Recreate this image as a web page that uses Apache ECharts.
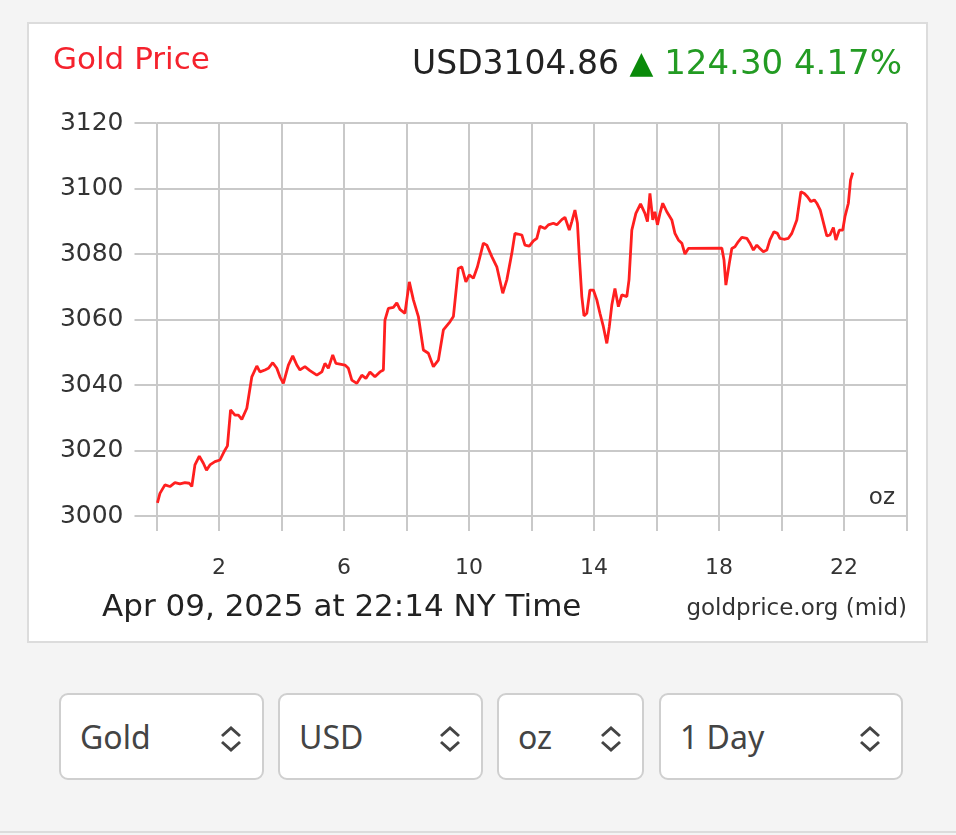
<!DOCTYPE html>
<html>
<head>
<meta charset="utf-8">
<script src="https://cdn.jsdelivr.net/npm/echarts@6/dist/echarts.min.js"></script>
<style>
  html, body { margin: 0; padding: 0; }
  body { width: 956px; height: 835px; background: #f4f4f4; position: relative; overflow: hidden; }
  #page { position: absolute; left: 0; top: 0; width: 956px; height: 831px; border-bottom: 2px solid #dcdcdc; }
  #panel { position: absolute; left: 27px; top: 22px; width: 901px; height: 621px; box-sizing: border-box;
           background: #fff; border: 2px solid #dcdcdc; }
  #chart { position: absolute; left: 0; top: 0; width: 956px; height: 835px; }
  .sel { position: absolute; top: 693px; height: 87px; box-sizing: border-box; background: #fff;
         border: 2px solid #cfcfcf; border-radius: 9px; font-family: "Noto Sans", sans-serif;
         font-size: 32px; color: #444; line-height: 83px; padding-left: 19px; }
  .sel svg { position: absolute; right: 18px; top: 30px; }
</style>
</head>
<body>
<div id="page"></div>
<div id="panel"></div>
<div id="chart"></div>
<div class="sel" style="left:59px;width:205px">Gold<svg width="26" height="28" viewBox="0 0 26 28"><path d="M4 11 L13 3 L22 11 M4 17 L13 25 L22 17" fill="none" stroke="#444" stroke-width="3"/></svg></div>
<div class="sel" style="left:278px;width:205px">USD<svg width="26" height="28" viewBox="0 0 26 28"><path d="M4 11 L13 3 L22 11 M4 17 L13 25 L22 17" fill="none" stroke="#444" stroke-width="3"/></svg></div>
<div class="sel" style="left:497px;width:147px">oz<svg width="26" height="28" viewBox="0 0 26 28"><path d="M4 11 L13 3 L22 11 M4 17 L13 25 L22 17" fill="none" stroke="#444" stroke-width="3"/></svg></div>
<div class="sel" style="left:659px;width:244px">1 Day<svg width="26" height="28" viewBox="0 0 26 28"><path d="M4 11 L13 3 L22 11 M4 17 L13 25 L22 17" fill="none" stroke="#444" stroke-width="3"/></svg></div>
<script>
// prices through the day (hours since midnight NY time)
var hours = [0.03, 0.11, 0.27, 0.43, 0.59, 0.75, 0.91, 1.05, 1.13, 1.23, 1.37, 1.5, 1.6, 1.71, 1.87,
  2.03, 2.16, 2.27, 2.37, 2.51, 2.62, 2.73, 2.89, 3.05, 3.21, 3.31, 3.47, 3.58, 3.72, 3.85, 3.95,
  4.06, 4.22, 4.36, 4.49, 4.59, 4.75, 4.91, 5.13, 5.29, 5.39, 5.5, 5.64, 5.74, 5.87,
  6.03, 6.14, 6.25, 6.41, 6.57, 6.7, 6.83, 6.99, 7.15, 7.26, 7.31, 7.42, 7.58, 7.69, 7.79, 7.95,
  8.09, 8.22, 8.38, 8.54, 8.7, 8.86, 9.02, 9.18, 9.39, 9.5, 9.66, 9.77, 9.9,
  10.01, 10.14, 10.27, 10.46, 10.57, 10.73, 10.89, 11.08, 11.21, 11.37, 11.47, 11.69, 11.79, 11.93,
  12.06, 12.17, 12.27, 12.43, 12.54, 12.7, 12.81, 12.97, 13.07, 13.21, 13.29, 13.39, 13.47, 13.53,
  13.61, 13.68, 13.77, 13.87, 13.98, 14.09, 14.19, 14.3, 14.41, 14.49, 14.57, 14.67, 14.78, 14.89,
  15.05, 15.12, 15.21, 15.34, 15.49, 15.63, 15.71, 15.79, 15.88, 15.95,
  16.03, 16.11, 16.2, 16.33, 16.49, 16.59, 16.7, 16.81, 16.91, 17.02,
  18.09, 18.16, 18.22, 18.33, 18.41, 18.51, 18.62, 18.73, 18.89, 18.99,
  19.1, 19.21, 19.31, 19.42, 19.53, 19.63, 19.76, 19.87, 19.95,
  20.08, 20.22, 20.33, 20.49, 20.62, 20.73, 20.83, 20.94, 21.05, 21.13, 21.24, 21.36, 21.45, 21.55,
  21.66, 21.74, 21.85, 21.96, 22.03, 22.14, 22.21, 22.28];
var prices = [3004, 3006.9, 3009.5, 3009, 3010.2, 3009.8, 3010.2, 3010, 3009, 3015.6, 3018.3, 3016.1, 3014, 3015.6, 3016.6,
  3017.1, 3019.6, 3021.4, 3032.4, 3030.8, 3030.8, 3029.5, 3032.9, 3042.5, 3045.8, 3044, 3044.6, 3045.1, 3046.8, 3045.1, 3042.5,
  3040.5, 3046.1, 3048.9, 3046.1, 3044.6, 3045.6, 3044.4, 3043, 3044, 3046.6, 3045.1, 3049.2, 3046.6, 3046.4,
  3046.1, 3045.1, 3041.5, 3040.5, 3043, 3042, 3044, 3042.5, 3044, 3044.6, 3059.8, 3063.4, 3063.7, 3065.1, 3063.1, 3061.9,
  3071.5, 3066, 3060.9, 3050.7, 3049.7, 3045.6, 3047.6, 3056.8, 3059.3, 3060.9, 3075.6, 3076.1, 3071.5,
  3073.6, 3072.6, 3076.1, 3083.3, 3082.7, 3079.2, 3076.1, 3068, 3072.1, 3080.2, 3086.3, 3085.8, 3082.7, 3082.4,
  3084, 3084.8, 3088.5, 3087.8, 3088.9, 3089.4, 3088.9, 3090.5, 3091.2, 3087.3, 3089.9, 3093.4, 3089.4, 3079.2,
  3067, 3061.1, 3061.9, 3069, 3069, 3066, 3061.9, 3057.8, 3052.7, 3057.8, 3064.4, 3069.5, 3063.9, 3067.5,
  3067, 3072.1, 3087.3, 3092.4, 3095.3, 3092.4, 3089.9, 3098.5, 3090.4, 3092.9,
  3088.9, 3092.4, 3095.5, 3092.9, 3090.4, 3086.3, 3084.3, 3083.3, 3080, 3081.7,
  3081.8, 3078.2, 3070.5, 3077.2, 3081.7, 3082.2, 3083.8, 3085.1, 3084.8, 3083.3,
  3081.2, 3082.7, 3081.7, 3080.7, 3081.2, 3084.3, 3086.8, 3086.3, 3084.8,
  3084.5, 3084.8, 3086.3, 3090.4, 3099, 3098.5, 3097.5, 3096, 3096.5, 3095.5, 3093.4, 3088.9, 3085.5, 3085.8,
  3088.1, 3084.3, 3087.3, 3087.3, 3091.4, 3095.5, 3102.6, 3104.86];

var yTicks = [3000, 3020, 3040, 3060, 3080, 3100, 3120];
var xLabelHours = [2, 6, 10, 14, 18, 22];

var titleText = 'Gold Price';
var lastPrice = 'USD3104.86';
var change = '124.30 4.17%';
var stamp = 'Apr 09, 2025 at 22:14 NY Time';
var source = 'goldprice.org (mid)';
var unit = 'oz';

var points = hours.map(function (h, i) { return [h, prices[i]]; });

var gridColor = '#c9c9c9';
var font = 'DejaVu Sans';

var myChart = echarts.init(document.getElementById('chart'));

var option = {
    animation: false,
    grid: {
        left: 156.5,
        right: 49.5,
        top: 123,
        bottom: 319
    },
    xAxis: {
        type: 'value',
        min: 0,
        max: 24,
        interval: 2,
        axisLine: { show: false },
        axisTick: { show: true, length: 15, lineStyle: { color: gridColor, width: 2 } },
        splitLine: { show: true, lineStyle: { color: gridColor, width: 2 } },
        axisLabel: {
            margin: 41,
            fontFamily: font,
            fontSize: 22,
            color: '#333',
            formatter: function (v) { return xLabelHours.indexOf(v) >= 0 ? String(v) : ''; }
        }
    },
    yAxis: {
        type: 'value',
        min: yTicks[0],
        max: yTicks[yTicks.length - 1],
        interval: 20,
        axisLine: { show: false },
        axisTick: { show: true, length: 22, lineStyle: { color: gridColor, width: 2 } },
        splitLine: { show: true, lineStyle: { color: gridColor, width: 2 } },
        axisLabel: {
            margin: 33,
            fontFamily: font,
            fontSize: 25,
            color: '#333',
            formatter: function (v) { return String(v); }
        }
    },
    graphic: [
        {
            type: 'text', left: 53, top: 45,
            style: { text: titleText, fontFamily: font, fontSize: 31, fill: '#f5222d' }
        },
        {
            type: 'text', right: 54, top: 48,
            style: {
                text: '{p|' + lastPrice + ' }{a|▲}{c| ' + change + '}',
                fontFamily: font,
                rich: {
                    p: { fontFamily: font, fontSize: 33, fill: '#222' },
                    a: { fontFamily: font, fontSize: 31, fill: '#0a8a0a' },
                    c: { fontFamily: font, fontSize: 34, fill: '#239b23' }
                }
            }
        },
        {
            type: 'text', right: 61, top: 487,
            style: { text: unit, fontFamily: font, fontSize: 23, fill: '#333' }
        },
        {
            type: 'text', left: 102, top: 592,
            style: { text: stamp, fontFamily: font, fontSize: 31, fill: '#222' }
        },
        {
            type: 'text', right: 49, top: 598,
            style: { text: source, fontFamily: font, fontSize: 23, fill: '#333' }
        }
    ],
    series: [
        {
            name: 'Gold',
            type: 'line',
            data: points,
            showSymbol: false,
            smooth: false,
            lineStyle: { color: '#ff1f1f', width: 2.8 }
        }
    ]
};

myChart.setOption(option);
</script>
</body>
</html>
